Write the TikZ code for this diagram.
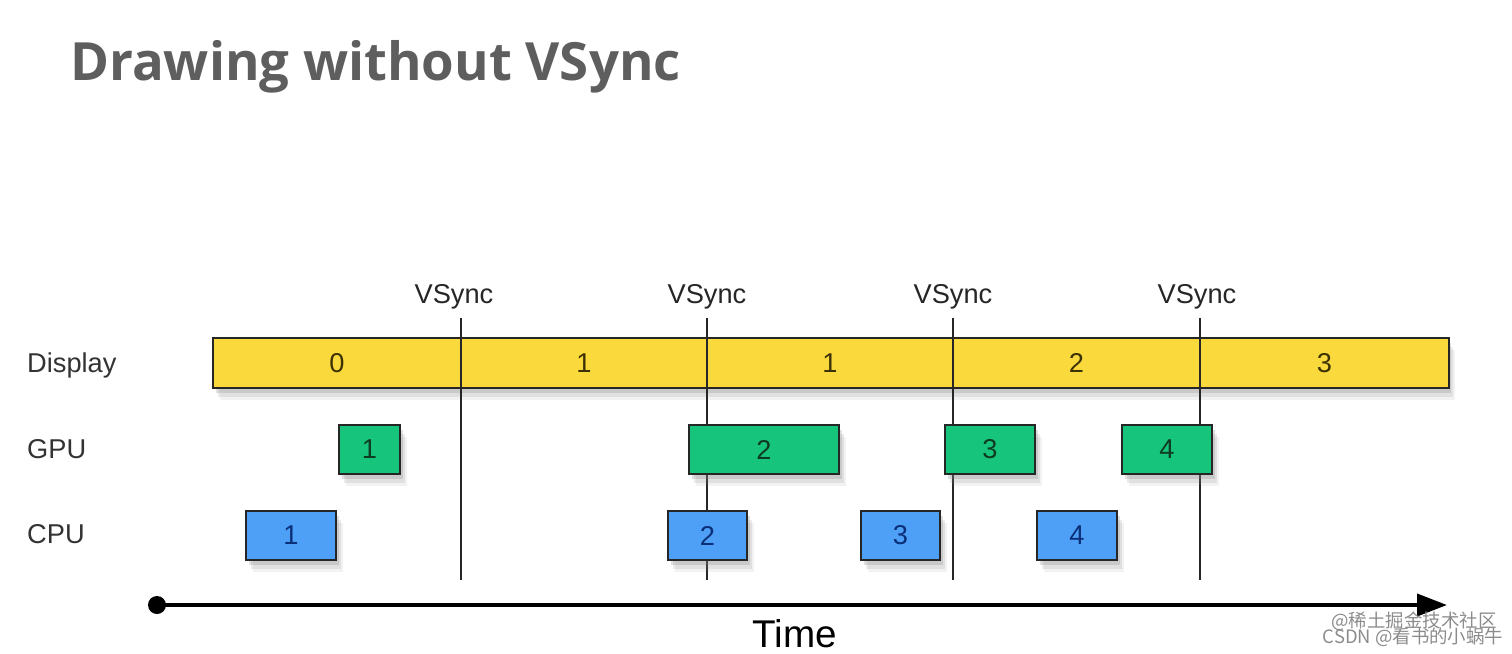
\documentclass[tikz,border=0pt]{standalone}
\usepackage{fontspec}
\setmainfont{Liberation Sans}
\newfontfamily\titlefont{Open Sans}
\newfontfamily\cjkfont{Noto Sans CJK SC}
\usetikzlibrary{arrows.meta,shadows}

\definecolor{dispyellow}{HTML}{FAD93C}
\definecolor{gpugreen}{HTML}{17C47C}
\definecolor{cpublue}{HTML}{4DA0F6}
\definecolor{disptext}{HTML}{3D3205}
\definecolor{gputext}{HTML}{0E3B22}
\definecolor{cputext}{HTML}{0B2F78}
\definecolor{titlegray}{HTML}{5E5E5E}

\tikzset{
  slot/.style={draw=black!85, line width=1.1pt, inner sep=0pt, minimum height=0.98cm,
    drop shadow={shadow xshift=0.13cm, shadow yshift=-0.24cm, opacity=0.1},
    drop shadow={shadow xshift=0.09cm, shadow yshift=-0.17cm, opacity=0.16},
    drop shadow={shadow xshift=0.05cm, shadow yshift=-0.1cm, opacity=0.24}},
  gpubox/.style={slot, fill=gpugreen, text=gputext},
  cpubox/.style={slot, fill=cpublue, text=cputext},
  rowlabel/.style={anchor=base west, text=black!80},
  vline/.style={line width=1.1pt, black!85}
}

\begin{document}
\begin{tikzpicture}[x=0.02cm, y=-0.02cm, font=\fontsize{15.5}{18}\selectfont]
\useasboundingbox (0,0) rectangle (1512,653);

\node[anchor=base west, text=titlegray, font=\titlefont\bfseries\fontsize{30}{36}\selectfont]
  (title) at (64,80) {Drawing without VSync};

% rows
\node[rowlabel] (display) at (21,372) {Display};
\node[rowlabel] (gpu) at (21,458) {GPU};
\node[rowlabel] (cpu) at (21,543) {CPU};

% display bar
\node[slot, fill=dispyellow, minimum width=24.72cm, minimum height=1cm] (disp) at (831,363) {};
\foreach \s/\a/\b [count=\i] in {0/213/461,1/461/707,1/707/953,2/953/1200,3/1200/1449}
  \node[text=disptext] (seg\i) at ({(\a+\b)/2},363) {\s};

% vsync lines
\foreach \x/\lx [count=\i] in {461/454,707/707,953/953,1200/1197}
{
  \node[anchor=base, text=black!85] (vs\i) at (\lx,303) {VSync};
  \coordinate (vtop\i) at (\x,318);
  \coordinate (vbot\i) at (\x,580);
  \draw[vline] (vtop\i) -- (vbot\i);
}

% frames
\foreach \n/\a/\b in {1/339/400,2/689/839,3/945/1035,4/1122/1212}
  \node[gpubox, minimum width={(\b-\a)*0.02cm}] (gpu\n) at ({(\a+\b)/2},449.5) {\n};
\foreach \n/\a/\b in {1/246/336,2/668/747,3/861/940,4/1037/1117}
  \node[cpubox, minimum width={(\b-\a)*0.02cm}] (cpu\n) at ({(\a+\b)/2},535.5) {\n};

% time axis
\node[circle, fill=black, inner sep=0pt, minimum size=0.36cm] (t0) at (157,605) {};
\coordinate (tend) at (1447,605);
\draw[line width=2.2pt, -{Triangle[length=0.6cm, width=0.44cm]}] (t0.center) -- (tend);
\node[anchor=base, font=\fontsize{22}{26}\selectfont] (time) at (795,647) {Time};

\node[anchor=base, text=black!45, font=\cjkfont\fontsize{10.5}{12}\selectfont] (wm1) at (1414,627) {@稀土掘金技术社区};
\node[anchor=base, text=black!45, font=\cjkfont\fontsize{10.5}{12}\selectfont] (wm2) at (1413,643) {CSDN @看书的小蜗牛};
\end{tikzpicture}
\end{document}
